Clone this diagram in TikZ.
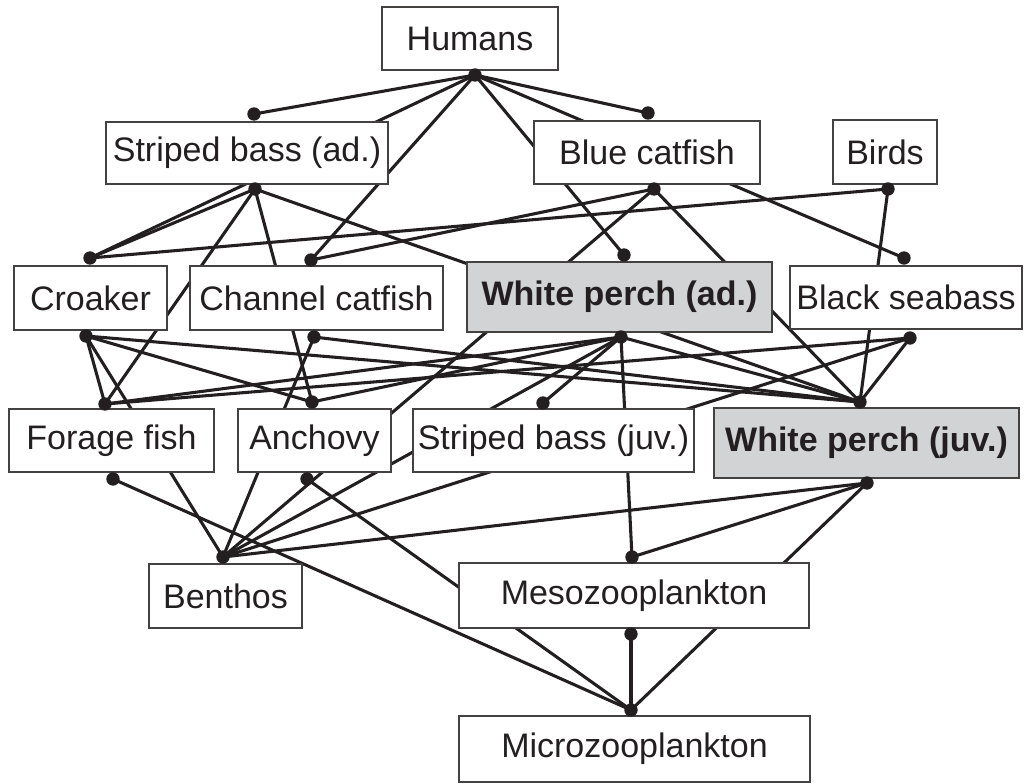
\documentclass[tikz,border=0pt]{standalone}
\usepackage{fontspec}
\setmainfont{Liberation Sans}
\usetikzlibrary{backgrounds}
\definecolor{boxgray}{HTML}{D1D3D4}
\definecolor{edgecol}{HTML}{231F20}
\tikzset{
  box/.style={draw=edgecol!85, line width=1.1pt, fill=white, inner sep=0pt,
    font=\fontsize{25.5}{30}\selectfont, text=edgecol},
  hbox/.style={box, fill=boxgray, font=\fontsize{25.5}{30}\selectfont\bfseries},
  dot/.style={circle, fill=edgecol, inner sep=0pt, minimum size=10pt},
  link/.style={draw=edgecol, line width=2.3pt}
}
\begin{document}
\begin{tikzpicture}[x=0.75pt,y=-0.75pt]
\useasboundingbox (0,0) rectangle (1024,783);
% boxes
\node[box, minimum width=132pt, minimum height=47.25pt] (hum) at (470,38.5) {Humans};
\node[box, minimum width=211.5pt, minimum height=46.5pt] (sba) at (247,153) {Striped bass (ad.)};
\node[box, minimum width=169.5pt, minimum height=47.25pt] (bc) at (647,152.5) {Blue catfish};
\node[box, minimum width=78pt, minimum height=48pt] (birds) at (885,152) {Birds};
\node[box, minimum width=114.75pt, minimum height=48pt] (cro) at (90.5,298) {Croaker};
\node[box, minimum width=189.75pt, minimum height=48pt] (cc) at (316.5,298) {Channel catfish};
\node[hbox, minimum width=228.75pt, minimum height=52.5pt] (wpa) at (619.5,297) {White perch (ad.)};
\node[box, minimum width=174pt, minimum height=47.25pt] (bs) at (906,297.5) {Black seabass};
\node[box, minimum width=153.75pt, minimum height=47.25pt] (ff) at (111.5,440.5) {Forage fish};
\node[box, minimum width=114.75pt, minimum height=47.25pt] (anc) at (314.5,440.5) {Anchovy};
\node[box, minimum width=210.75pt, minimum height=47.25pt] (sbj) at (553.5,440.5) {Striped bass (juv.)};
\node[hbox, minimum width=228.75pt, minimum height=52.5pt] (wpj) at (866.5,443) {White perch (juv.)};
\node[box, minimum width=114.75pt, minimum height=48pt] (ben) at (225.5,596) {Benthos};
\node[box, minimum width=262.5pt, minimum height=48.75pt] (meso) at (634,595.5) {Mesozooplankton};
\node[box, minimum width=263.25pt, minimum height=49.5pt] (micro) at (634.5,749) {Microzooplankton};
% dots
\node[dot] (humB) at (475,75) {};
\node[dot] (sbaT) at (254,114) {};
\node[dot] (sbaB) at (255,189) {};
\node[dot] (bcT) at (648,113) {};
\node[dot] (bcB) at (654,189) {};
\node[dot] (birdsB) at (888,189) {};
\node[dot] (croT) at (90,258) {};
\node[dot] (croB) at (86,336) {};
\node[dot] (ccT) at (311,260) {};
\node[dot] (ccB) at (314,337) {};
\node[dot] (wpaT) at (624,255) {};
\node[dot] (wpaB) at (621,337) {};
\node[dot] (bsT) at (904,258) {};
\node[dot] (bsB) at (910,338) {};
\node[dot] (ffT) at (105,404) {};
\node[dot] (ffB) at (113,479) {};
\node[dot] (ancT) at (312,402) {};
\node[dot] (ancB) at (307,479) {};
\node[dot] (sbjT) at (543,403) {};
\node[dot] (wpjT) at (860,402) {};
\node[dot] (wpjB) at (867,483) {};
\node[dot] (benT) at (223,557) {};
\node[dot] (mesoT) at (632,557) {};
\node[dot] (mesoB) at (631,634) {};
\node[dot] (microT) at (631,710) {};
% connectors
\begin{pgfonlayer}{background}
\foreach \a/\b in {humB/sbaT, humB/bcT, humB/croT, humB/ccT, humB/wpaT, humB/bsT,
  sbaB/croT, sbaB/ffT, sbaB/ancT, sbaB/wpjT,
  bcB/ccT, bcB/benT, bcB/wpjT,
  birdsB/croT, birdsB/wpjT,
  croB/ffT, croB/ancT, croB/benT, croB/wpjT,
  ccB/benT, ccB/wpjT,
  wpaB/ffT, wpaB/ancT, wpaB/sbjT, wpaB/wpjT, wpaB/benT, wpaB/mesoT,
  bsB/ffT, bsB/wpjT, bsB/benT,
  ffB/microT, ancB/microT,
  wpjB/benT, wpjB/mesoT, wpjB/microT,
  mesoB/microT}
  \draw[link] (\a.center) -- (\b.center);
\end{pgfonlayer}
\end{tikzpicture}
\end{document}
